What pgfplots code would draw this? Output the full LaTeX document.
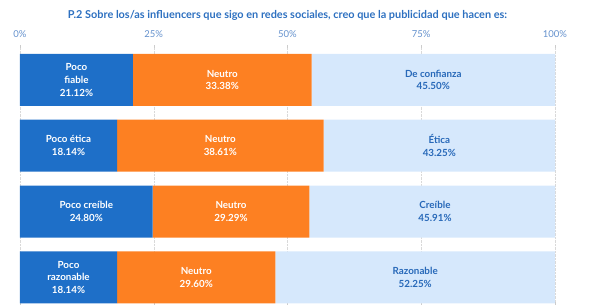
\documentclass[border=0pt]{standalone}
\usepackage{pgfplots}
\pgfplotsset{compat=1.18}
\usepackage{fontspec}
\setmainfont{Lato}
\definecolor{dblue}{RGB}{30,111,200}
\definecolor{orng}{RGB}{253,128,34}
\definecolor{lblue}{RGB}{214,232,252}
\definecolor{txtblue}{RGB}{40,105,185}
\definecolor{ticklab}{RGB}{100,145,205}
\definecolor{titleblue}{RGB}{45,112,192}
\begin{document}
\begin{tikzpicture}
\begin{axis}[
  at={(0,0)}, anchor=south west,
  scale only axis, width=535pt, height=260pt,
  xbar stacked, bar width=52pt,
  xmin=0, xmax=100,
  ymin=-0.53, ymax=3.42, y dir=reverse,
  ytick=\empty,
  xtick={0,25,50,75,100},
  xticklabels={0\%,25\%,50\%,75\%,100\%},
  xticklabel pos=upper,
  x tick label style={font=\fontsize{9.5}{11}\selectfont, text=ticklab, yshift=4pt},
  /pgf/number format/assume math mode=true,
  axis line style={draw=none},
  major tick length=3pt,
  tick style={gray!40, thin},
  xmajorgrids, major grid style={gray!30, densely dotted},
  title={\fontsize{10.9}{12}\selectfont\bfseries P.2 Sobre los/as influencers que sigo en redes sociales, creo que la publicidad que hacen es:},
  title style={text=titleblue, yshift=15pt},
]
\addplot[fill=dblue, draw=none] coordinates {(21.12,0) (18.14,1) (24.80,2) (18.14,3)};
\addplot[fill=orng, draw=none] coordinates {(33.38,0) (38.61,1) (29.29,2) (29.60,3)};
\addplot[fill=lblue, draw=none] coordinates {(45.50,0) (43.25,1) (45.91,2) (52.25,3)};
\coordinate (a0) at (axis cs:10.56,0);
\coordinate (b0) at (axis cs:37.81,0);
\coordinate (c0) at (axis cs:77.25,0);
\coordinate (a1) at (axis cs:9.07,1);
\coordinate (b1) at (axis cs:37.445,1);
\coordinate (c1) at (axis cs:78.375,1);
\coordinate (a2) at (axis cs:12.40,2);
\coordinate (b2) at (axis cs:39.445,2);
\coordinate (c2) at (axis cs:77.57,2);
\coordinate (a3) at (axis cs:9.07,3);
\coordinate (b3) at (axis cs:32.94,3);
\coordinate (c3) at (axis cs:73.87,3);
\end{axis}
\tikzset{lab/.style={align=center, font=\fontsize{9.8}{12.7}\selectfont\bfseries}}
\node[lab, text=white] at (a0) {Poco\\fiable\\21.12\%};
\node[lab, text=white] at (b0) {Neutro\\33.38\%};
\node[lab, text=txtblue] at (c0) {De confianza\\45.50\%};
\node[lab, text=white] at (a1) {Poco ética\\18.14\%};
\node[lab, text=white] at (b1) {Neutro\\38.61\%};
\node[lab, text=txtblue] at (c1) {Ética\\43.25\%};
\node[lab, text=white] at (a2) {Poco creíble\\24.80\%};
\node[lab, text=white] at (b2) {Neutro\\29.29\%};
\node[lab, text=txtblue] at (c2) {Creíble\\45.91\%};
\node[lab, text=white] at (a3) {Poco\\razonable\\18.14\%};
\node[lab, text=white] at (b3) {Neutro\\29.60\%};
\node[lab, text=txtblue] at (c3) {Razonable\\52.25\%};
\pgfresetboundingbox
\path (-20pt,0pt) rectangle (569pt,305pt);
\end{tikzpicture}
\end{document}
